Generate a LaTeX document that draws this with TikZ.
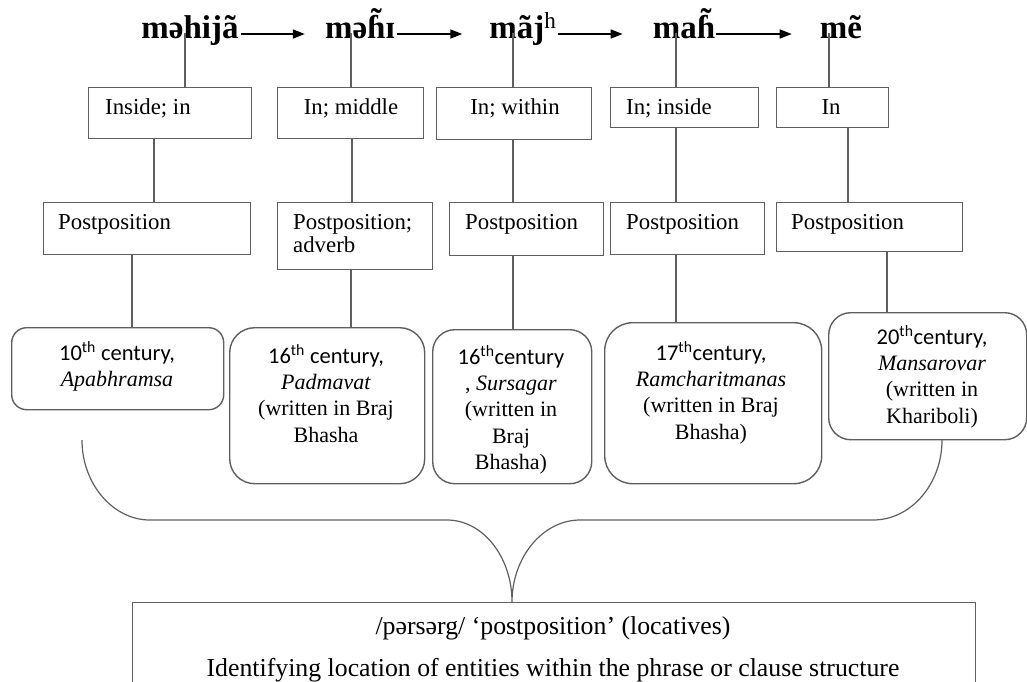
\documentclass[tikz,border=0pt]{standalone}
\usepackage{fontspec}
\setmainfont{Liberation Serif}
\newfontfamily\calibri{Carlito}
\usetikzlibrary{arrows.meta}
\definecolor{ln}{RGB}{95,95,95}
\newcommand\htil{\ooalign{ɦ\cr\hidewidth\raisebox{0.2em}{˜}\hidewidth\cr}}
\tikzset{
  sq/.style={draw=ln, line width=1.4pt, rectangle, inner sep=0pt, anchor=north west},
  rb/.style={draw=ln, line width=1.4pt, rectangle, rounded corners=#1, inner sep=0pt, anchor=north west},
  conn/.style={draw=ln, line width=1.3pt},
  word/.style={font=\fontsize{33}{36}\selectfont\bfseries, inner sep=0pt, anchor=base},
  arr/.style={draw=black, line width=1.5pt, -{Triangle[length=12pt,width=9pt]}},
  lbl/.style={font=\fontsize{22.8}{23.5}\selectfont, inner sep=0pt, anchor=base west, align=left},
  lblc/.style={font=\fontsize{22.8}{23.5}\selectfont, inner sep=0pt, anchor=base},
  ctr/.style={font=\fontsize{22}{26.4}\selectfont, inner sep=0pt, align=center, anchor=base},
  btxt/.style={font=\fontsize{25.8}{28}\selectfont, inner sep=0pt, anchor=base},
}
\begin{document}
\begin{tikzpicture}[x=1pt,y=-1pt]
\useasboundingbox (0,0) rectangle (1027,681);
\clip (0,0) rectangle (1027,681);

% top words
\node[word] (w1) at (190,38) {məhijã};
\node[word] (w2) at (360,38) {mə\htil ɪ};
\node[word] (w3) at (523,38) {mãj\textsuperscript{\mdseries h}};
\node[word] (w4) at (684,38) {ma\htil};
\node[word] (w5) at (841,38) {mẽ};

\draw[arr] ([xshift=2pt,yshift=4pt]w1.base east) -- ([xshift=-20pt,yshift=4pt]w2.base west);
\draw[arr] ([xshift=2pt,yshift=4pt]w2.base east) -- ([xshift=-27pt,yshift=4pt]w3.base west);
\draw[arr] ([xshift=1pt,yshift=4pt]w3.base east) -- ([xshift=-30pt,yshift=4pt]w4.base west);
\draw[arr] ([xshift=1pt,yshift=4pt]w4.base east) -- ([xshift=-28pt,yshift=4pt]w5.base west);

% row 1
\node[sq, minimum width=163pt, minimum height=51pt] (a1) at (88,87) {};
\node[sq, minimum width=146pt, minimum height=51pt] (b1) at (277,87) {};
\node[sq, minimum width=155pt, minimum height=52pt] (c1) at (436,87) {};
\node[sq, minimum width=148pt, minimum height=40pt] (d1) at (610,87) {};
\node[sq, minimum width=112pt, minimum height=40pt] (e1) at (776,87) {};
\node[lbl]  (ta1) at (105,114) {Inside; in};
\node[lblc] (tb1) at (351,114) {In; middle};
\node[lblc] (tc1) at (515,114) {In; within};
\node[lbl]  (td1) at (626,114) {In; inside};
\node[lblc] (te1) at (831,114) {In};

% row 2
\node[sq, minimum width=207pt, minimum height=52pt] (a2) at (43,202) {};
\node[sq, minimum width=155pt, minimum height=67pt] (b2) at (277,202) {};
\node[sq, minimum width=154pt, minimum height=53pt] (c2) at (449,202) {};
\node[sq, minimum width=154pt, minimum height=52pt] (d2) at (610,202) {};
\node[sq, minimum width=186pt, minimum height=49pt] (e2) at (776,202) {};
\node[lbl] (ta2) at (58,229) {Postposition};
\node[lbl] (tb2) at (293,252.5) {Postposition;\\adverb};
\node[lbl] (tc2) at (465,229) {Postposition};
\node[lbl] (td2) at (626,229) {Postposition};
\node[lbl] (te2) at (791,229) {Postposition};

% row 3 (base anchor = last line baseline)
\node[rb=15pt, minimum width=212pt, minimum height=82pt]  (a3) at (11,327) {};
\node[rb=25pt, minimum width=195pt, minimum height=156pt] (b3) at (229,327) {};
\node[rb=22pt, minimum width=159pt, minimum height=154pt] (c3) at (432,329) {};
\node[rb=28pt, minimum width=217pt, minimum height=161pt] (d3) at (604,322) {};
\node[rb=22pt, minimum width=198pt, minimum height=127pt] (e3) at (828,312) {};
\node[ctr] (ta3) at (117,386.4) {{\calibri\fontsize{22.5}{26.4}\selectfont 10\textsuperscript{th} century,}\\\textit{Apabhramsa}};
\node[ctr] (tb3) at (326,442.2) {{\calibri\fontsize{22.5}{26.4}\selectfont 16\textsuperscript{th} century,}\\\textit{Padmavat}\\(written in Braj\\Bhasha};
\node[ctr] (tc3) at (511,469.6) {{\calibri\fontsize{22.5}{26.4}\selectfont 16\textsuperscript{th}century}\\, \textit{Sursagar}\\(written in\\Braj\\Bhasha)};
\node[ctr] (td3) at (711,439.2) {{\calibri\fontsize{22.5}{26.4}\selectfont 17\textsuperscript{th}century,}\\\textit{Ramcharitmanas}\\(written in Braj\\Bhasha)};
\node[ctr] (te3) at (932,423.2) {{\calibri\fontsize{22.5}{26.4}\selectfont 20\textsuperscript{th}century,}\\\textit{Mansarovar}\\(written in\\Khariboli)};

% connectors words -> row1
\coordinate (v1) at (185,33);
\coordinate (v2) at (351,33);
\coordinate (v3) at (513,33);
\coordinate (v4) at (676,33);
\coordinate (v5) at (829,33);
\draw[conn] (v1) -- (v1 |- a1.north);
\draw[conn] (v2) -- (v2 |- b1.north);
\draw[conn] (v3) -- (v3 |- c1.north);
\draw[conn] (v4) -- (v4 |- d1.north);
\draw[conn] (v5) -- (v5 |- e1.north);

% row1 -> row2
\coordinate (x1) at (154,0);
\coordinate (x2) at (352,0);
\coordinate (x3) at (513,0);
\coordinate (x4) at (676,0);
\coordinate (x5) at (848,0);
\draw[conn] (x1 |- a1.south) -- (x1 |- a2.north);
\draw[conn] (x2 |- b1.south) -- (x2 |- b2.north);
\draw[conn] (x3 |- c1.south) -- (x3 |- c2.north);
\draw[conn] (x4 |- d1.south) -- (x4 |- d2.north);
\draw[conn] (x5 |- e1.south) -- (x5 |- e2.north);

% row2 -> row3
\coordinate (y1) at (132,0);
\coordinate (y2) at (351,0);
\coordinate (y3) at (513,0);
\coordinate (y4) at (676,0);
\coordinate (y5) at (887,0);
\draw[conn] (y1 |- a2.south) -- (y1 |- a3.north);
\draw[conn] (y2 |- b2.south) -- (y2 |- b3.north);
\draw[conn] (y3 |- c2.south) -- (y3 |- c3.north);
\draw[conn] (y4 |- d2.south) -- (y4 |- d3.north);
\draw[conn] (y5 |- e2.south) -- (y5 |- e3.north);

% bottom box
\node[sq, minimum width=843pt, minimum height=120pt] (bot) at (132,602) {};
\node[btxt] (bt1) at (553,634) {/pərsərg/ ‘postposition’ (locatives)};
\node[btxt] (bt2) at (553,676) {Identifying location of entities within the phrase or clause structure};

% brace
\coordinate (bl) at (82,440);
\coordinate (br) at (942,440);
\coordinate (cusp) at (512,602);
\draw[conn, line width=1.2pt] (bl) .. controls (82,484) and (113,520) .. (150,520)
  -- (447,520) .. controls (483,520) and (512,557) .. (cusp)
  .. controls (512,557) and (543,520) .. (580,520)
  -- (873,520) .. controls (911,520) and (942,484) .. (br);
\end{tikzpicture}
\end{document}
